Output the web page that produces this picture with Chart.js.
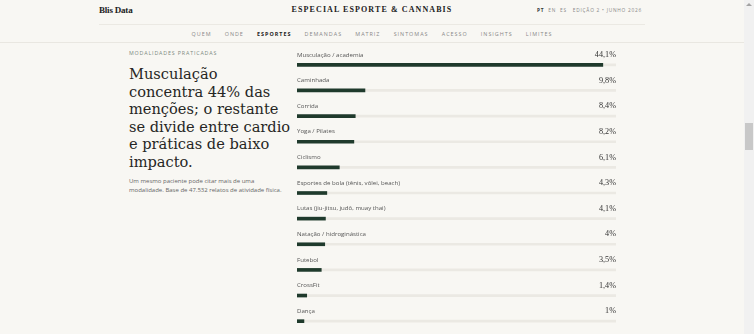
<!DOCTYPE html>
<html lang="pt">
<head>
<meta charset="utf-8">
<title>Modalidades praticadas</title>
<script src="https://cdn.jsdelivr.net/npm/chart.js@4/dist/chart.umd.min.js"></script>
<style>
  html, body { margin: 0; padding: 0; }
  body {
    width: 754px; height: 334px; overflow: hidden; position: relative;
    background: #f8f7f3; font-family: "Open Sans", sans-serif; color: #222;
  }
  .top { position: absolute; left: 0; top: 0; width: 744px; height: 42px; border-bottom: 1px solid #e9e7e1; }
  .brand { position: absolute; left: 99px; top: 5px; font: bold 9px "Liberation Serif", serif; letter-spacing: -0.2px; }
  .title { position: absolute; left: 0; width: 744px; top: 5px; text-align: center; font: bold 8px "Liberation Serif", serif; letter-spacing: 1.1px; }
  .lang { position: absolute; left: 537px; top: 7px; font-size: 4.8px; letter-spacing: 0.75px; color: #888; }
  .lang b { color: #333; }
  .rule { position: absolute; left: 99px; width: 546px; top: 24px; border-top: 1px solid #ebe9e3; }
  .nav { position: absolute; left: 0; width: 744px; top: 30px; text-align: center; font-size: 5.4px; letter-spacing: 1px; color: #888; }
  .nav span { margin: 0 6.6px; }
  .nav .on { color: #222; font-weight: bold; }
  .left { position: absolute; left: 129px; top: 49px; width: 165px; }
  .eyebrow { font-size: 5.3px; letter-spacing: 0.85px; color: #7b8a7f; }
  h1 { margin: 8px 0 0; font: normal 14.6px/17.6px "DejaVu Serif", serif; color: #262624; white-space: nowrap; }
  .sub { margin-top: 6px; font-size: 6px; line-height: 9px; color: #666; white-space: nowrap; }
  .chartbox { position: absolute; left: 290px; top: 44px; width: 340px; height: 290px; }
  .sb { position: absolute; left: 744px; top: 0; width: 10px; height: 334px; background: #f1f1f1; }
  .arrow { position: absolute; left: 2px; top: 3px; width: 0; height: 0; border-left: 3px solid transparent; border-right: 3px solid transparent; border-bottom: 3px solid #a3a3a3; }
  .thumb { position: absolute; left: 1px; top: 123px; width: 8px; height: 27px; background: #c8c8c8; }
</style>
</head>
<body>
<div class="top">
  <div class="brand">Blis Data</div>
  <div class="title">ESPECIAL ESPORTE &amp; CANNABIS</div>
  <div class="lang"><b>PT</b> &nbsp;EN &nbsp;ES &nbsp; EDIÇÃO 2 • JUNHO 2026</div>
  <div class="rule"></div>
  <div class="nav">
    <span>QUEM</span><span>ONDE</span><span class="on">ESPORTES</span><span>DEMANDAS</span><span>MATRIZ</span><span>SINTOMAS</span><span>ACESSO</span><span>INSIGHTS</span><span>LIMITES</span>
  </div>
</div>
<div class="left">
  <div class="eyebrow">MODALIDADES PRATICADAS</div>
  <h1>Musculação<br>concentra 44% das<br>menções; o restante<br>se divide entre cardio<br>e práticas de baixo<br>impacto.</h1>
  <div class="sub">Um mesmo paciente pode citar mais de uma<br>modalidade. Base de 47.532 relatos de atividade física.</div>
</div>
<div class="chartbox"><canvas id="bars"></canvas></div>
<div class="sb"><div class="arrow"></div><div class="thumb"></div></div>
<script>
// modalidades e % de menções
const categories = [
  'Musculação / academia', 'Caminhada', 'Corrida', 'Yoga / Pilates', 'Ciclismo',
  'Esportes de bola (tênis, vôlei, beach)', 'Lutas (jiu-jitsu, judô, muay thai)',
  'Natação / hidroginástica', 'Futebol', 'CrossFit', 'Dança'
];
const shares = [44.1, 9.8, 8.4, 8.2, 6.1, 4.3, 4.1, 4, 3.5, 1.4, 1];
const valueLabels = ['44,1%', '9,8%', '8,4%', '8,2%', '6,1%', '4,3%', '4,1%', '4%', '3,5%', '1,4%', '1%'];
const axisMax = 46;
const track = categories.map(() => axisMax);

// rótulo acima de cada barra + valor à direita
const rowText = {
  id: 'rowText',
  afterDatasetsDraw(chart) {
    const { ctx, chartArea, scales } = chart;
    ctx.save();
    ctx.textBaseline = 'middle';
    categories.forEach((name, i) => {
      const y = scales.y.getPixelForValue(i) - 10;
      ctx.font = '6.1px "Open Sans", sans-serif';
      ctx.fillStyle = '#555';
      ctx.textAlign = 'left';
      ctx.fillText(name, chartArea.left, y);
      ctx.font = '8.2px "Liberation Serif", serif';
      ctx.fillStyle = '#333';
      ctx.textAlign = 'right';
      ctx.fillText(valueLabels[i], chartArea.right, y);
    });
    ctx.restore();
  }
};

new Chart(document.getElementById('bars'), {
  type: 'bar',
  data: {
    labels: categories,
    datasets: [
      { data: shares, backgroundColor: '#1f3a2c', barThickness: 3, order: 1 },
      { data: track, backgroundColor: '#ebe9e3', barThickness: 2, order: 2 }
    ]
  },
  options: {
    indexAxis: 'y',
    responsive: true,
    maintainAspectRatio: false,
    animation: false,
    grouped: false,
    layout: { padding: { left: 7, right: 14, top: 8, bottom: 0 } },
    plugins: { legend: { display: false }, tooltip: { enabled: false } },
    scales: {
      x: { display: false, min: 0, max: axisMax },
      y: { display: false, offset: true }
    }
  },
  plugins: [rowText]
});
</script>
</body>
</html>
